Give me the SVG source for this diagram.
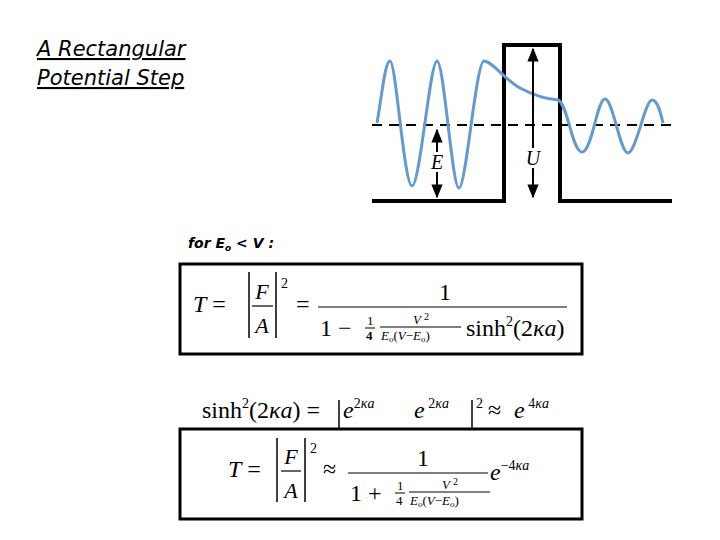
<svg xmlns="http://www.w3.org/2000/svg" width="720" height="540" viewBox="0 0 720 540">
<style>
.t{font-family:"DejaVu Sans","Liberation Sans",sans-serif;font-style:italic;fill:#000}
.m{font-family:"Liberation Serif","DejaVu Serif",serif;fill:#000}
.i{font-style:italic}
.k{stroke:#000;fill:none}
</style>
<defs>
<marker id="ah" viewBox="0 0 10 10" refX="9" refY="5" markerWidth="7" markerHeight="7" orient="auto-start-reverse"><path d="M0,1 L10,5 L0,9 Z" fill="#000"/></marker>
</defs>
<rect width="720" height="540" fill="#fff"/>
<g id="title">
<text class="t" x="37" y="56" font-size="21" text-decoration="underline">A Rectangular </text>
<text class="t" x="37" y="85" font-size="21" text-decoration="underline">Potential Step</text>
</g>
<g id="condition"><text class="t" x="188" y="248" font-size="14" font-weight="bold">for E<tspan font-size="9" dy="3">o</tspan><tspan dy="-3"> &lt; V :</tspan></text></g>
<g id="plot">
<path class="k" stroke-width="4" d="M372,201 H504 V45 H560 V201 H672"/>
<line class="k" x1="372" y1="125" x2="672" y2="125" stroke-width="2" stroke-dasharray="10,7"/>
<path d="M377,123 C382,95 385,61 390,61 C396,61 404,186 412,186 C420,186 430,61 437,61 C444,61 452,188 459,188 C466,188 476,61 484,61 C492,61 505,80 520,88 C535,96 545,99 558,100 C568,104 572,152 582,152 C592,152 597,99 605,99 C613,99 620,153 628,153 C636,153 645,100 652,100 C658,100 661,115 663,123" fill="none" stroke="#6699cc" stroke-width="3"/>
<line class="k" x1="437" y1="130" x2="437" y2="197" stroke-width="2" marker-start="url(#ah)" marker-end="url(#ah)"/>
<line class="k" x1="533" y1="49" x2="533" y2="197" stroke-width="2" marker-start="url(#ah)" marker-end="url(#ah)"/>
<rect x="427" y="152" width="20" height="20" fill="#fff"/>
<text class="m i" x="437" y="169" font-size="20" text-anchor="middle">E</text>
<rect x="523" y="148" width="20" height="20" fill="#fff"/>
<text class="m i" x="533" y="165" font-size="20" text-anchor="middle">U</text>
</g>
<g id="formula1">
<rect x="180" y="264" width="402" height="90" fill="#fff" stroke="#000" stroke-width="3"/>
<text class="m" x="193" y="312" font-size="24"><tspan class="i">T</tspan> =</text>
<line class="k" x1="249" y1="272" x2="249" y2="338" stroke-width="1.5"/>
<line class="k" x1="276" y1="272" x2="276" y2="338" stroke-width="1.5"/>
<text class="m i" x="262" y="299" font-size="22" text-anchor="middle">F</text>
<line class="k" x1="252" y1="306" x2="273" y2="306" stroke-width="1.2"/>
<text class="m i" x="262" y="333" font-size="22" text-anchor="middle">A</text>
<text class="m" x="281" y="288" font-size="14">2</text>
<text class="m" x="296" y="312" font-size="24">=</text>
<text class="m" x="445" y="300" font-size="24" text-anchor="middle">1</text>
<line class="k" x1="318" y1="307" x2="567" y2="307" stroke-width="1.2"/>
<text class="m" x="320" y="336" font-size="24">1 −</text>
<text class="m" x="367" y="325" font-size="13">1</text>
<line class="k" x1="365" y1="328" x2="375" y2="328" stroke-width="1"/>
<text class="m" x="366" y="340" font-size="13" font-weight="bold">4</text>
<text class="m i" x="421" y="324" font-size="13" text-anchor="middle">V <tspan font-style="normal" dy="-4" font-size="10">2</tspan></text>
<line class="k" x1="380" y1="327" x2="461" y2="327" stroke-width="1"/>
<text class="m i" x="381" y="340" font-size="13">E<tspan font-size="9" dy="2">o</tspan><tspan dy="-2" font-style="normal">(</tspan>V<tspan font-style="normal">−</tspan>E<tspan font-size="9" dy="2">o</tspan><tspan dy="-2" font-style="normal">)</tspan></text>
<text class="m" x="466" y="336" font-size="24">sinh<tspan font-size="14" dy="-10">2</tspan><tspan dy="10">(2</tspan><tspan class="i">κa</tspan>)</text>
</g>
<g id="formula-sinh">
<text class="m" x="202" y="418" font-size="24">sinh<tspan font-size="14" dy="-10">2</tspan><tspan dy="10">(2</tspan><tspan class="i">κa</tspan>) =</text>
<line class="k" x1="339" y1="400" x2="339" y2="428" stroke-width="1.5"/>
<text class="m i" x="343" y="418" font-size="24">e<tspan font-size="14" dy="-10" font-style="normal">2</tspan><tspan font-size="14" dy="0">κa</tspan></text>
<text class="m i" x="414" y="418" font-size="24">e<tspan font-size="14" dy="-10" font-style="normal">  2</tspan><tspan font-size="14">κa</tspan></text>
<line class="k" x1="472" y1="400" x2="472" y2="428" stroke-width="1.5"/>
<text class="m" x="476" y="408" font-size="14">2</text>
<text class="m" x="488" y="418" font-size="24">≈</text>
<text class="m i" x="514" y="418" font-size="24">e<tspan font-size="14" dy="-10" font-style="normal">   4</tspan><tspan font-size="14">κa</tspan></text>
</g>
<g id="formula2">
<rect x="180" y="429" width="402" height="90" fill="#fff" stroke="#000" stroke-width="3"/>
<text class="m" x="228" y="477" font-size="24"><tspan class="i">T</tspan> =</text>
<line class="k" x1="277" y1="438" x2="277" y2="502" stroke-width="1.5"/>
<line class="k" x1="305" y1="438" x2="305" y2="502" stroke-width="1.5"/>
<text class="m i" x="291" y="464" font-size="22" text-anchor="middle">F</text>
<line class="k" x1="281" y1="471" x2="301" y2="471" stroke-width="1.2"/>
<text class="m i" x="291" y="498" font-size="22" text-anchor="middle">A</text>
<text class="m" x="310" y="453" font-size="14">2</text>
<text class="m" x="323" y="477" font-size="24">≈</text>
<text class="m" x="423" y="466" font-size="24" text-anchor="middle">1</text>
<line class="k" x1="348" y1="473" x2="488" y2="473" stroke-width="1.2"/>
<text class="m" x="350" y="501" font-size="24">1 +</text>
<text class="m" x="397" y="490" font-size="13">1</text>
<line class="k" x1="395" y1="493" x2="405" y2="493" stroke-width="1"/>
<text class="m" x="396" y="505" font-size="13">4</text>
<text class="m i" x="450" y="489" font-size="13" text-anchor="middle">V <tspan font-style="normal" dy="-4" font-size="10">2</tspan></text>
<line class="k" x1="409" y1="492" x2="490" y2="492" stroke-width="1"/>
<text class="m i" x="410" y="505" font-size="13">E<tspan font-size="9" dy="2">o</tspan><tspan dy="-2" font-style="normal">(</tspan>V<tspan font-style="normal">−</tspan>E<tspan font-size="9" dy="2">o</tspan><tspan dy="-2" font-style="normal">)</tspan></text>
<text class="m i" x="490" y="480" font-size="24">e<tspan font-size="14" dy="-10" font-style="normal">−4</tspan><tspan font-size="14">κa</tspan></text>
</g>
</svg>
